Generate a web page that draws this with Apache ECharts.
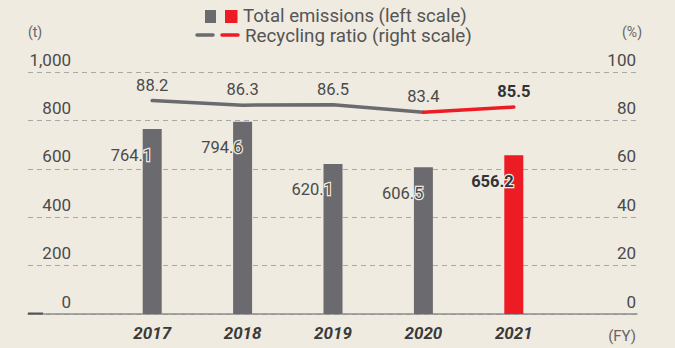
<!DOCTYPE html>
<html>
<head>
<meta charset="utf-8">
<script src="https://cdn.jsdelivr.net/npm/echarts@6/dist/echarts.min.js"></script>
<style>
  html, body { margin: 0; padding: 0; background: #efebe1; }
  #chart { width: 675px; height: 348px; }
</style>
</head>
<body>
<div id="chart"></div>
<script>
// Fiscal years and values
const years = ['2017', '2018', '2019', '2020', '2021'];
const emissions = [764.1, 794.6, 620.1, 606.5, 656.2];       // t, left scale
const recyclingRatio = [88.2, 86.3, 86.5, 83.4, 85.5];      // %, right scale
const leftTicks = { min: 0, max: 1000, interval: 200 };
const rightTicks = { min: 0, max: 100, interval: 20 };

const GRAY = '#6b6b6f';
const RED = '#ed1c24';
const BG = '#efebe1';
const TEXT = '#4a4a4a';
const FONT = 'Roboto, "Liberation Sans", sans-serif';
const last = years.length - 1;

const barData = emissions.map((v, i) => i === last ? {
  value: v,
  itemStyle: { color: RED },
  label: { fontWeight: 'bold', color: '#333' }
} : v);

// Gray segment covers all but the latest year; red segment joins the last two points
const grayLine = recyclingRatio.map((v, i) => i === last ? null : v);
const redLine = recyclingRatio.map((v, i) => i >= last - 1 ? {
  value: v,
  label: { show: i === last }
} : null);

const chart = echarts.init(document.getElementById('chart'), null, { renderer: 'svg' });

const tickLabel = {
  color: TEXT, fontSize: 17, fontFamily: FONT,
  verticalAlign: 'bottom', padding: [0, 0, 4, 0]
};

chart.setOption({
  backgroundColor: BG,
  animation: false,
  grid: [
    { left: 28, right: 38, top: 72, bottom: 34 },
    { left: 107, right: 116, top: 72, bottom: 34 }
  ],
  xAxis: [
    {
      gridIndex: 0, type: 'value', min: 0, max: 1,
      axisLine: { show: true, lineStyle: { color: '#8e8e8e', width: 1.5 } },
      axisTick: { show: false }, axisLabel: { show: false }, splitLine: { show: false }
    },
    {
      gridIndex: 1, type: 'category', data: years,
      axisLine: { show: false }, axisTick: { show: false },
      axisLabel: {
        margin: 10, color: '#3a3a3a', fontSize: 17, fontWeight: 'bold',
        fontStyle: 'italic', fontFamily: FONT
      }
    }
  ],
  yAxis: [
    {
      gridIndex: 0, type: 'value', position: 'left', ...leftTicks,
      axisLine: { show: false }, axisTick: { show: false },
      axisLabel: Object.assign({ margin: -43, align: 'right',
        formatter: v => v.toLocaleString('en-US') }, tickLabel),
      splitLine: { lineStyle: { color: '#a8a8a8', type: [5, 4], width: 1 } }
    },
    {
      gridIndex: 0, type: 'value', position: 'right', ...rightTicks,
      axisLine: { show: false }, axisTick: { show: false },
      axisLabel: Object.assign({ margin: -1, align: 'right' }, tickLabel),
      splitLine: { show: false }
    },
    { gridIndex: 1, type: 'value', ...leftTicks, show: false },
    { gridIndex: 1, type: 'value', ...rightTicks, show: false }
  ],
  series: [
    {
      name: 'Total emissions (left scale)',
      type: 'bar', xAxisIndex: 1, yAxisIndex: 2,
      barWidth: 19, data: barData,
      itemStyle: { color: GRAY },
      label: {
        show: true, position: [9.5, 26], align: 'right', verticalAlign: 'middle',
        color: TEXT, fontSize: 16.5, fontFamily: FONT,
        textBorderColor: BG, textBorderWidth: 2.5
      },
      z: 2
    },
    {
      name: 'Recycling ratio (right scale)',
      type: 'line', xAxisIndex: 1, yAxisIndex: 3,
      data: grayLine, symbol: 'circle', symbolSize: 0.1, showSymbol: true,
      lineStyle: { color: GRAY, width: 3.5, cap: 'round' }, itemStyle: { color: GRAY },
      label: {
        show: true, position: 'top', distance: 7,
        color: TEXT, fontSize: 16.5, fontFamily: FONT
      },
      z: 3
    },
    {
      name: 'Recycling ratio latest',
      type: 'line', xAxisIndex: 1, yAxisIndex: 3,
      data: redLine, symbol: 'circle', symbolSize: 0.1, showSymbol: true,
      lineStyle: { color: RED, width: 3.5, cap: 'round' }, itemStyle: { color: RED },
      label: {
        position: 'top', distance: 7,
        color: '#333', fontSize: 16.5, fontWeight: 'bold', fontFamily: FONT
      },
      z: 4
    }
  ],
  graphic: [
    // legend: bars
    { type: 'rect', shape: { x: 205, y: 10, width: 11, height: 13 }, style: { fill: GRAY } },
    { type: 'rect', shape: { x: 225, y: 10, width: 12.5, height: 13 }, style: { fill: RED } },
    { type: 'text', left: 243, top: 6, style: {
        text: 'Total emissions (left scale)', fill: '#555', fontSize: 18.6,
        lineHeight: 19, fontFamily: FONT } },
    // legend: line
    { type: 'line', shape: { x1: 197, y1: 35, x2: 213, y2: 35 },
      style: { stroke: GRAY, lineWidth: 3.5, lineCap: 'round' } },
    { type: 'line', shape: { x1: 222, y1: 35, x2: 238, y2: 35 },
      style: { stroke: RED, lineWidth: 3.5, lineCap: 'round' } },
    { type: 'text', left: 245, top: 26, style: {
        text: 'Recycling ratio (right scale)', fill: '#555', fontSize: 18.8,
        lineHeight: 19, fontFamily: FONT } },
    // units
    { type: 'text', left: 28, top: 25, style: {
        text: '(t)', fill: '#666', fontSize: 14, fontFamily: FONT } },
    { type: 'text', right: 33, top: 25, style: {
        text: '(%)', fill: '#666', fontSize: 14, fontFamily: FONT } },
    { type: 'text', right: 39, top: 328, style: {
        text: '(FY)', fill: '#666', fontSize: 15, fontFamily: FONT } },
    // darker stub at the left end of the baseline
    { type: 'line', shape: { x1: 28, y1: 313.5, x2: 43, y2: 313.5 },
      style: { stroke: '#555', lineWidth: 2 }, z: 10 }
  ]
});
</script>
</body>
</html>
